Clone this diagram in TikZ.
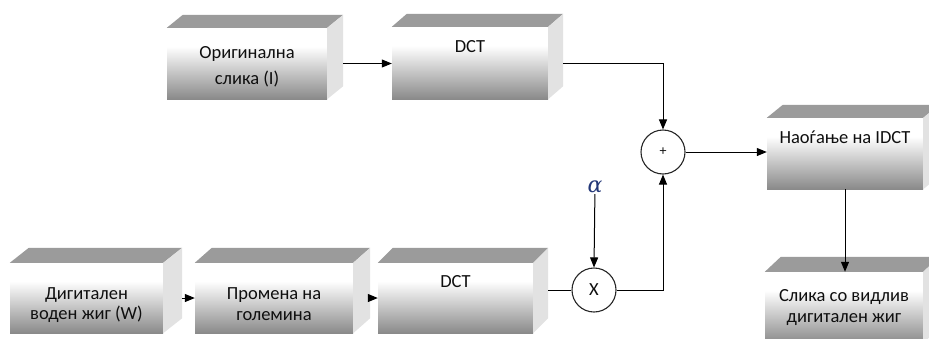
\documentclass[tikz,border=0pt]{standalone}
\usepackage{fontspec}
\setmainfont{Carlito}
\newfontfamily\alphafont{DejaVu Serif}
\usetikzlibrary{arrows.meta,calc}
\definecolor{fbot}{RGB}{138,138,138}
\definecolor{topc}{RGB}{155,155,155}
\definecolor{sidec}{RGB}{226,226,226}
\definecolor{txt}{RGB}{15,15,15}
\definecolor{alphac}{RGB}{35,55,120}
\pgfdeclareverticalshading{frontshade}{100bp}{color(0bp)=(fbot); color(25bp)=(fbot); color(62bp)=(white); color(75bp)=(white); color(100bp)=(white)}
\newcommand\twol[3]{\begin{tabular}[t]{@{}c@{}}#1\\[#3]#2\end{tabular}}
\begin{document}
\begin{tikzpicture}[x=1pt,y=-1pt,
  front/.style={shade, shading=frontshade, inner sep=0pt, font=\fontsize{18.5}{20}\selectfont, text=txt, align=center},
  conn/.style={line width=1pt, draw=black},
  arr/.style={conn, -{Triangle[length=10pt,width=8pt]}},
  opnode/.style={circle, draw=black!85, line width=1.1pt, minimum size=44pt, inner sep=0pt, fill=white, text=txt}]
\useasboundingbox (0,0) rectangle (929,338);

\node[front, minimum width=160, text height=30, text depth=41] (b1) at (247,63.5) {\twol{Оригинална}{слика (I)}{6pt}};
\node[front, minimum width=156, text height=25, text depth=47] (b2) at (470,63) {DCT};
\node[front, minimum width=156, text height=25, text depth=46] (b3) at (845,153.5) {Наоѓање на IDCT};
\node[front, minimum width=158, text height=29, text depth=42] (b4) at (844,307.5) {\twol{Слика со видлив}{дигитален жиг}{1pt}};
\node[front, minimum width=153, text height=36, text depth=34] (b5) at (86.5,298) {\twol{Дигитален}{воден жиг (W)}{0pt}};
\node[front, minimum width=158, text height=36, text depth=34] (b6) at (274,298) {\twol{Промена на}{големина}{1pt}};
\node[front, minimum width=155, text height=24, text depth=46] (b7) at (455.5,298) {DCT};

\foreach \n/\dx/\dy in {b1/16/13, b2/15/13, b3/16/13, b4/16/15, b5/19/15, b6/17/15, b7/15/15} {
  \fill[topc] (\n.north west) -- ++(\dx,-\dy) -- ($(\n.north east)+(\dx,-\dy)$) -- (\n.north east) -- cycle;
  \fill[sidec] (\n.north east) -- ++(\dx,-\dy) -- ($(\n.south east)+(\dx,-\dy)$) -- (\n.south east) -- cycle;
  \coordinate (\n r) at ($(\n.east)+(\dx,0)$);
}

\node[opnode, font=\fontsize{14}{16}\selectfont] (plus) at (663,152) {+};
\node[opnode, font=\fontsize{18.5}{20}\selectfont] (times) at (594,290) {X};
\node[inner sep=1pt, text=alphac, font=\alphafont\itshape\fontsize{22}{24}\selectfont] (alpha) at (595,187) {α};

\draw[arr] (b1r) -- (b1r -| b2.west);
\draw[arr] (b2r) -| (plus.north);
\draw[arr] (plus.east) -- (plus.east -| b3.west);
\draw[arr] (b3.south) -- (b3.south |- b4.north);
\draw[arr] (b5r) -- (b5r -| b6.west);
\draw[arr] (b6r) -- (b6r -| b7.west);
\draw[conn] (times.west) -- (times.west -| b7r);
\draw[arr] (alpha) -- (times.north);
\draw[arr] (times.east) -| (plus.south);
\end{tikzpicture}
\end{document}
